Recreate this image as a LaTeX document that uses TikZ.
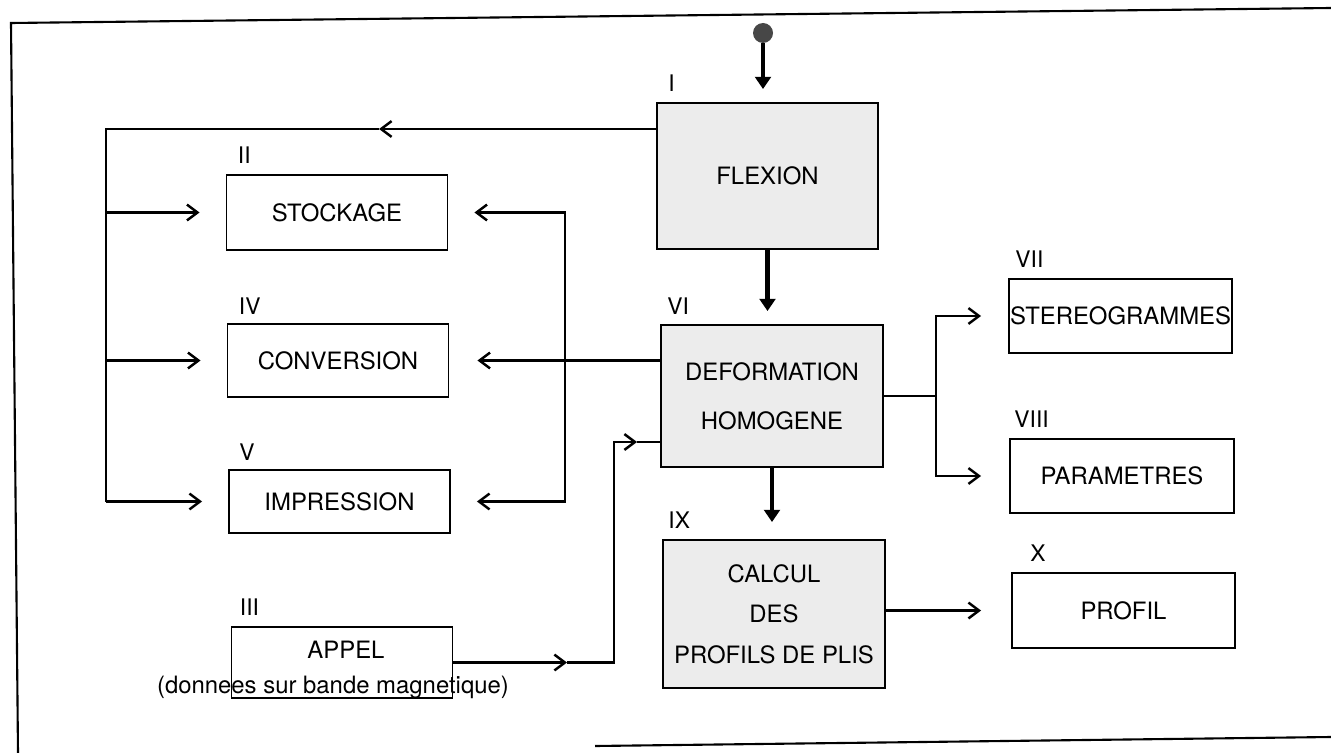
\documentclass[tikz,border=0pt]{standalone}
\usepackage{fontspec}
\setmainfont{TeX Gyre Heros}
\usetikzlibrary{arrows.meta,positioning,calc}
\newcommand{\boxfont}{\fontsize{13.6}{23}\selectfont}
\newcommand{\numfont}{\fontsize{13}{15}\selectfont}
\tikzset{
  procbox/.style  ={draw,line width=1.1pt,minimum width=4.42cm,minimum height=1.48cm,inner sep=1pt,align=center,font=\boxfont},
  mainbox/.style  ={procbox,fill=gray!15},
  boxtxt/.style   ={inner sep=1pt,font=\boxfont},
  numlab/.style   ={inner sep=0pt,font=\numfont},
  startdot/.style ={circle,fill=black!72,minimum size=0.4cm,inner sep=0pt},
  flow/.style     ={line width=1.4pt},
  bigarrow/.style ={line width=2.6pt,-{Triangle[length=7pt,width=9pt]}},
  frameline/.style={line width=1.2pt},
}

\begin{document}
\begin{tikzpicture}[x=0.02cm,y=-0.02cm,>={Straight Barb[length=6pt,width=9pt]}]
  \useasboundingbox (0,0) rectangle (1331,753);
  % frame
  \coordinate (ftr) at (1331,8);
  \coordinate (ftl) at (11,23);
  \coordinate (fbl) at (18,753);
  \coordinate (fbm) at (595,746);
  \coordinate (fbr) at (1331,737);
  \draw[frameline] (ftr) -- (ftl) -- (fbl);
  \draw[frameline] (fbm) -- (fbr);

  % main chain
  \node[startdot] (dot) at (763,33) {};
  \node[mainbox,minimum height=2.92cm] (flex) at (767.5,176) {FLEXION};
  \node[mainbox,minimum width=4.44cm,minimum height=2.84cm] (defo) at (772,396) {DEFORMATION\\[5pt]HOMOGENE};
  \node[mainbox,minimum width=4.44cm,minimum height=2.96cm] (calcul) at (774,614) {CALCUL\\DES\\PROFILS DE PLIS};

  % left column
  \node[procbox,minimum height=1.5cm] (stock) at (337,212.5) {STOCKAGE};
  \node[procbox,minimum height=1.46cm] (conv) at (338,360.5) {CONVERSION};
  \node[procbox,minimum height=1.26cm] (impr) at (339.5,501.5) {IMPRESSION};
  \node[procbox,minimum height=1.42cm] (appel) at (342,662.5) {};
  \node[boxtxt] (appeltxt) at (346,650) {APPEL};
  \node[boxtxt] (appelnote) at (333,687) {(donnees sur bande magnetique)};

  % right column
  \node[procbox,minimum width=4.46cm,inner xsep=0pt] (stereo) at (1120.5,316) {STEREOGRAMMES};
  \node[procbox,minimum width=4.48cm] (param) at (1122,476) {PARAMETRES};
  \node[procbox,minimum width=4.46cm,minimum height=1.5cm] (profil) at (1123.5,610.5) {PROFIL};

  % numerals
  \node[numlab,above right=0.2cm and 0.24cm of flex.north west] (nI) {I};
  \node[numlab,above right=0.2cm and 0.24cm of stock.north west] (nII) {II};
  \node[numlab,above right=0.2cm and 0.18cm of appel.north west] (nIII) {III};
  \node[numlab,above right=0.17cm and 0.24cm of conv.north west] (nIV) {IV};
  \node[numlab,above right=0.17cm and 0.22cm of impr.north west] (nV) {V};
  \node[numlab,above right=0.18cm and 0.14cm of defo.north west] (nVI) {VI};
  \node[numlab,above right=0.2cm and 0.14cm of stereo.north west] (nVII) {VII};
  \node[numlab,above right=0.21cm and 0.1cm of param.north west] (nVIII) {VIII};
  \node[numlab,above right=0.2cm and 0.12cm of calcul.north west] (nIX) {IX};
  \node[numlab,above right=0.21cm and 0.38cm of profil.north west] (nX) {X};

  % vertical flow
  \draw[bigarrow,shorten >=0.26cm] (dot) -- (dot |- flex.north);
  \draw[bigarrow,shorten >=0.26cm] (flex.south) -- (flex.south |- defo.north);
  \draw[bigarrow,shorten >=0.34cm] (defo.south) -- (defo.south |- calcul.north);

  % left bus
  \coordinate (lbus) at (106,129);
  \coordinate (topmid) at (379,129);
  \draw[flow,->] (flex.west |- lbus) -- (topmid);
  \draw[flow] (topmid) -- (lbus) -- (lbus |- impr);
  \draw[flow,->,shorten >=0.52cm] (lbus |- stock) -- (stock.west);
  \draw[flow,->,shorten >=0.52cm] (lbus |- conv) -- (conv.west);
  \draw[flow,->,shorten >=0.52cm] (lbus |- impr) -- (impr.west);

  % right bus
  \coordinate (rbus) at (565,212);
  \draw[flow,<->,shorten <=0.52cm,shorten >=0.52cm] (stock.east) -- (rbus |- stock) -- (rbus |- impr) -- (impr.east);
  \draw[flow,->,shorten >=0.56cm] (defo.west |- conv) -- (conv.east);

  % appel input
  \coordinate (ajoin) at (614,442);
  \coordinate (amid) at (567,662.5);
  \coordinate (dmid) at (637,442);
  \draw[flow,->] (appel.east) -- (amid);
  \draw[flow,->] (amid) -- (ajoin |- amid) -- (ajoin) -- (dmid);
  \draw[flow] (dmid) -- (defo.west |- ajoin);

  % outputs
  \coordinate (rjoin) at (936,396);
  \draw[flow] (defo.east) -- (rjoin);
  \draw[flow,<->,shorten <=0.54cm,shorten >=0.56cm] (stereo.west) -- (rjoin |- stereo) -- (rjoin |- param) -- (param.west);
  \draw[flow,->,shorten >=0.6cm] (calcul.east |- profil) -- (profil.west);
\end{tikzpicture}
\end{document}
